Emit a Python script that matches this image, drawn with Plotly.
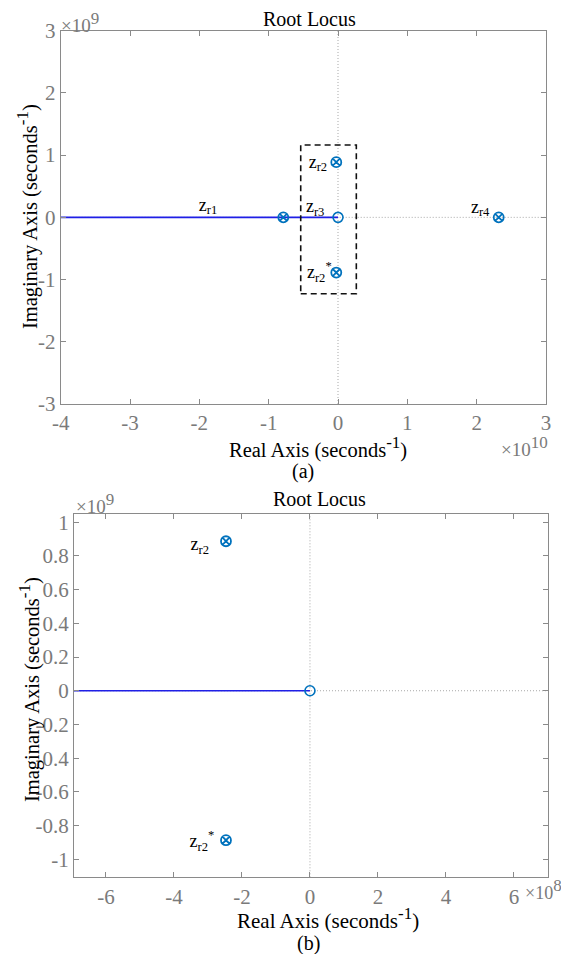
import plotly.graph_objects as go

# ---------------- data ----------------
# (a) full root locus
a_xrange = [-4e10, 3e10]
a_yrange = [-3e9, 3e9]
a_xticks = [-4e10, -3e10, -2e10, -1e10, 0, 1e10, 2e10, 3e10]
a_xticklabels = ["-4", "-3", "-2", "-1", "0", "1", "2", "3"]
a_yticks = [-3e9, -2e9, -1e9, 0, 1e9, 2e9, 3e9]
a_yticklabels = ["-3", "-2", "-1", "0", "1", "2", "3"]

a_locus_x = [-4e10, 0]
a_locus_y = [0, 0]
a_pz_x = [-0.789e10, -0.025e10, -0.025e10, 2.318e10]   # pole+zero pairs
a_pz_y = [0, 0.887e9, -0.887e9, 0]
a_zero_x = [0]
a_zero_y = [0]
a_box_x = [-0.538e10, 0.264e10]
a_box_y = [-1.228e9, 1.162e9]
a_label_text = ["z<sub>r1</sub>", "z<sub>r2</sub>", "z<sub>r3</sub>", "z<sub>r2</sub><sup>*</sup>", "z<sub>r4</sub>"]
a_label_x = [-1.875e10, -0.29e10, -0.33e10, -0.27e10, 2.05e10]
a_label_y = [0.18e9, 0.87e9, 0.16e9, -0.90e9, 0.15e9]

# (b) zoomed root locus
b_xrange = [-6.94e8, 7.01e8]
b_yrange = [-1.107e9, 1.047e9]
b_xticks = [-6e8, -4e8, -2e8, 0, 2e8, 4e8, 6e8]
b_xticklabels = ["-6", "-4", "-2", "0", "2", "4", "6"]
b_yticks = [-1e9, -0.8e9, -0.6e9, -0.4e9, -0.2e9, 0, 0.2e9, 0.4e9, 0.6e9, 0.8e9, 1e9]
b_yticklabels = ["-1", "-0.8", "-0.6", "-0.4", "-0.2", "0", "0.2", "0.4", "0.6", "0.8", "1"]

b_locus_x = [-6.94e8, 0]
b_locus_y = [0, 0]
b_pz_x = [-2.47e8, -2.47e8]
b_pz_y = [0.887e9, -0.887e9]
b_zero_x = [0]
b_zero_y = [0]
b_label_text = ["z<sub>r2</sub>", "z<sub>r2</sub><sup>*</sup>"]
b_label_x = [-3.24e8, -3.18e8]
b_label_y = [0.86e9, -0.90e9]

# ---------------- styling ----------------
W, H = 569, 954
OFF = 8  # page body margin of the written html
FONT = "Liberation Serif"
GRAY = "#7a7a7a"
AXC = "#8a8a8a"
MBLUE = "#0072BD"
LBLUE = "#1f1fe6"
DOT = "1px,2px"


def py(p):
    return 1 - (p - OFF) / H


def px(p):
    return (p - OFF) / W


fig = go.Figure()


def add_panel(xa, ya, xr, yr, lx, ly, pzx, pzy, zx, zy, tx, ty, tt, box=None):
    fig.add_trace(go.Scatter(x=[xr[0], xr[1]], y=[0, 0], mode="lines",
                             line=dict(color="#a8a8a8", width=1, dash=DOT),
                             xaxis=xa, yaxis=ya, showlegend=False, hoverinfo="skip"))
    fig.add_trace(go.Scatter(x=[0, 0], y=[yr[0], yr[1]], mode="lines",
                             line=dict(color="#a8a8a8", width=1, dash=DOT),
                             xaxis=xa, yaxis=ya, showlegend=False, hoverinfo="skip"))
    fig.add_trace(go.Scatter(x=lx, y=ly, mode="lines",
                             line=dict(color=LBLUE, width=1.6),
                             xaxis=xa, yaxis=ya, showlegend=False))
    if box is not None:
        bx, by = box
        fig.add_trace(go.Scatter(x=[bx[0], bx[1], bx[1], bx[0], bx[0]],
                                 y=[by[0], by[0], by[1], by[1], by[0]],
                                 mode="lines", line=dict(color="#111111", width=1.6, dash="6px,4px"),
                                 xaxis=xa, yaxis=ya, showlegend=False))
    fig.add_trace(go.Scatter(x=pzx, y=pzy, mode="markers",
                             marker=dict(symbol="circle-x-open", size=10, color=MBLUE,
                                         line=dict(width=1.8, color=MBLUE)),
                             xaxis=xa, yaxis=ya, showlegend=False))
    fig.add_trace(go.Scatter(x=zx, y=zy, mode="markers",
                             marker=dict(symbol="circle-open", size=10, color=MBLUE,
                                         line=dict(width=1.6, color=MBLUE)),
                             xaxis=xa, yaxis=ya, showlegend=False))
    fig.add_trace(go.Scatter(x=tx, y=ty, mode="text", text=tt,
                             textfont=dict(family=FONT, size=18, color="black"),
                             xaxis=xa, yaxis=ya, showlegend=False))


add_panel("x", "y", a_xrange, a_yrange, a_locus_x, a_locus_y, a_pz_x, a_pz_y,
          a_zero_x, a_zero_y, a_label_x, a_label_y, a_label_text, box=(a_box_x, a_box_y))
add_panel("x2", "y2", b_xrange, b_yrange, b_locus_x, b_locus_y, b_pz_x, b_pz_y,
          b_zero_x, b_zero_y, b_label_x, b_label_y, b_label_text)

axis_common = dict(showgrid=False, zeroline=False, showline=True, linecolor=AXC,
                   linewidth=1.2, mirror="ticks", ticks="inside", ticklen=5,
                   tickcolor=AXC, tickwidth=1, automargin=False,
                   tickfont=dict(family=FONT, size=21, color=GRAY))

fig.update_layout(
    width=W, height=H, margin=dict(l=0, r=0, t=0, b=0, autoexpand=False),
    paper_bgcolor="white", plot_bgcolor="white", showlegend=False,
    xaxis=dict(domain=[px(60.7), px(546)], range=a_xrange, tickvals=a_xticks,
               ticktext=a_xticklabels, anchor="y", **axis_common),
    yaxis=dict(domain=[py(404), py(30.7)], range=a_yrange, tickvals=a_yticks,
               ticktext=a_yticklabels, anchor="x", **axis_common),
    xaxis2=dict(domain=[px(74), px(548.3)], range=b_xrange, tickvals=b_xticks,
                ticktext=b_xticklabels, anchor="y2", **axis_common),
    yaxis2=dict(domain=[py(877.3), py(514.3)], range=b_yrange, tickvals=b_yticks,
                ticktext=b_yticklabels, anchor="x2", **axis_common),
)

ann = []


def txt(x, y, s, size=20.5, color="black", xanchor="center", angle=0):
    ann.append(dict(x=px(x), y=py(y), xref="paper", yref="paper", text=s,
                    showarrow=False, xanchor=xanchor, yanchor="middle", textangle=angle,
                    font=dict(family=FONT, size=size, color=color)))


SEC = 'Real Axis (seconds<sup><span style="font-size:17px">-1</span></sup>)'
SECY = 'Imaginary Axis (seconds<sup><span style="font-size:17px">-1</span></sup>)'


def mult(e):
    return '×10<sup><span style="font-size:17px">%s</span></sup>' % e


# (a)
txt(309, 19, "Root Locus", 20)
txt(318, 447, SEC, 20.5)
txt(303, 471, "(a)", 20)
txt(27, 217, SECY, angle=-90)
txt(59, 22, mult("9"), 19, GRAY, xanchor="left")
txt(499, 446, mult("10"), 19, GRAY, xanchor="left")
# (b)
txt(319, 499, "Root Locus", 20)
txt(328, 918, SEC, 21)
txt(308, 943, "(b)", 20)
txt(29, 690, SECY, angle=-90)
txt(74, 504, mult("9"), 19, GRAY, xanchor="left")
txt(523, 889, mult("8"), 18, GRAY, xanchor="left")

fig.update_layout(annotations=ann)
fig.write_html("out.html")
